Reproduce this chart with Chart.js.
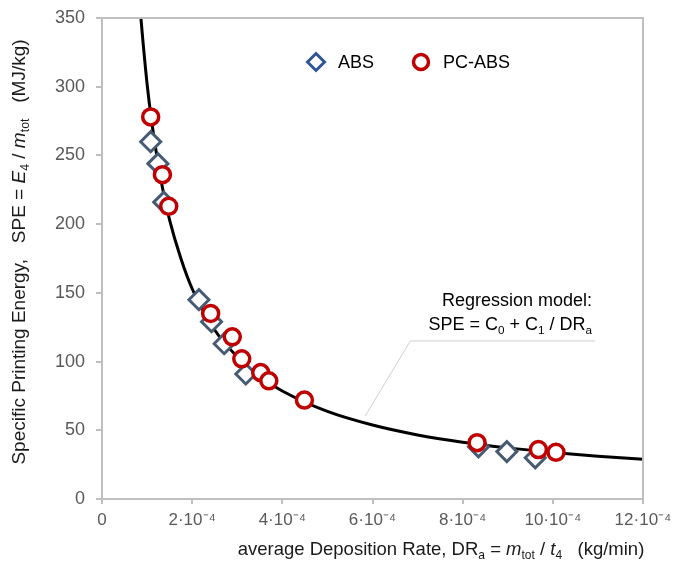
<!DOCTYPE html>
<html>
<head>
<meta charset="utf-8">
<script src="https://cdn.jsdelivr.net/npm/chart.js@4.4.0/dist/chart.umd.min.js"></script>
<style>
  html, body { margin: 0; padding: 0; background: #fff; }
  #wrap { width: 673px; height: 569px; }
</style>
</head>
<body>
<div id="wrap"><canvas id="c" width="673" height="569"></canvas></div>
<script>
// deposition rate in units of 1e-4 kg/min, SPE in MJ/kg
const absRate = [1.08, 1.24, 1.37, 2.15, 2.43, 2.71, 3.19, 8.35, 8.98, 9.61];
const absSpe  = [260, 244, 216, 145, 129, 113, 91, 38, 34.5, 30];

const pcRate = [1.08, 1.34, 1.48, 2.41, 2.89, 3.10, 3.52, 3.70, 4.49, 8.32, 9.68, 10.07];
const pcSpe  = [278, 236, 213, 135, 118, 102, 92, 86, 72, 41, 36, 34];

// regression curve
const fitRate = [0.85, 0.9, 1.0, 1.1, 1.2, 1.35, 1.5, 1.75, 2.0, 2.5, 3.0, 3.5, 4.0, 5.0, 6.0, 7.0, 8.0, 9.0, 10.0, 11.0, 12.0];
const fitSpe  = [355, 336, 302, 275, 253, 225, 203, 175, 153, 123, 103.5, 89, 78.6, 63.7, 53.8, 46.6, 41.3, 37.2, 33.9, 31.1, 28.9];

const xTicks = [0, 2, 4, 6, 8, 10, 12];
const yTicks = [0, 50, 100, 150, 200, 250, 300, 350];

const pts = (xs, ys) => xs.map((x, i) => ({ x: x, y: ys[i] }));

const FONT = '"Liberation Sans", Arial, sans-serif';
const AXIS = '#BFBFBF';

// draws text with italic / sub / sup parts
function richWidth(ctx, segs, size) {
  let w = 0;
  segs.forEach(s => {
    const fs = s.s ? size * 0.65 : size;
    ctx.font = (s.i ? 'italic ' : '') + fs + 'px ' + FONT;
    w += ctx.measureText(s.t).width;
  });
  return w;
}
function drawRich(ctx, segs, x, y, size, align) {
  const w = richWidth(ctx, segs, size);
  let cx = align === 'right' ? x - w : align === 'center' ? x - w / 2 : x;
  ctx.textBaseline = 'alphabetic';
  ctx.textAlign = 'left';
  segs.forEach(s => {
    const fs = s.s ? size * 0.65 : size;
    ctx.font = (s.i ? 'italic ' : '') + fs + 'px ' + FONT;
    let dy = 0;
    if (s.s === 'sub') dy = size * 0.22;
    if (s.s === 'sup') dy = -size * 0.4;
    ctx.fillText(s.t, cx, y + dy);
    cx += ctx.measureText(s.t).width;
  });
}

const extras = {
  id: 'extras',
  afterDraw(chart) {
    const ctx = chart.ctx;
    const a = chart.chartArea;
    const xs = chart.scales.x, ys = chart.scales.y;
    ctx.save();

    // top and right frame
    ctx.strokeStyle = AXIS;
    ctx.lineWidth = 2;
    ctx.beginPath();
    ctx.moveTo(a.left, a.top);
    ctx.lineTo(a.right, a.top);
    ctx.lineTo(a.right, a.bottom);
    ctx.stroke();

    // legend
    const ly = 62;
    ctx.strokeStyle = '#2F5597';
    ctx.fillStyle = '#fff';
    ctx.lineWidth = 3;
    ctx.beginPath();
    ctx.moveTo(316, ly - 8.5); ctx.lineTo(324.5, ly); ctx.lineTo(316, ly + 8.5); ctx.lineTo(307.5, ly);
    ctx.closePath(); ctx.fill(); ctx.stroke();
    ctx.strokeStyle = '#C00000';
    ctx.lineWidth = 3.5;
    ctx.beginPath(); ctx.arc(421, ly, 7.5, 0, Math.PI * 2); ctx.fill(); ctx.stroke();
    ctx.fillStyle = '#000';
    ctx.font = '18px ' + FONT;
    ctx.textBaseline = 'middle';
    ctx.textAlign = 'left';
    ctx.fillText('ABS', 338, ly + 1);
    ctx.fillText('PC-ABS', 443, ly + 1);

    // regression note with leader line
    ctx.strokeStyle = '#D0D0D0';
    ctx.lineWidth = 1;
    ctx.beginPath();
    ctx.moveTo(xs.getPixelForValue(5.84), ys.getPixelForValue(60.5));
    ctx.lineTo(xs.getPixelForValue(6.84), ys.getPixelForValue(115));
    ctx.lineTo(xs.getPixelForValue(10.94), ys.getPixelForValue(115));
    ctx.stroke();
    ctx.fillStyle = '#000';
    const nx = xs.getPixelForValue(10.87);
    drawRich(ctx, [{ t: 'Regression model:' }], nx, ys.getPixelForValue(145) + 6, 18, 'right');
    drawRich(ctx, [{ t: 'SPE = C' }, { t: '0', s: 'sub' }, { t: ' + C' }, { t: '1', s: 'sub' },
      { t: ' / DR' }, { t: 'a', s: 'sub' }], nx, ys.getPixelForValue(127) + 6, 18, 'right');

    // axis titles
    ctx.fillStyle = '#1a1a1a';
    drawRich(ctx, [{ t: 'average Deposition Rate, DR' }, { t: 'a', s: 'sub' }, { t: ' = ' },
      { t: 'm', i: true }, { t: 'tot', s: 'sub' }, { t: ' / ' }, { t: 't', i: true }, { t: '4', s: 'sub' },
      { t: '   (kg/min)' }], 441, 555, 18.5, 'center');

    ctx.translate(25, 252);
    ctx.rotate(-Math.PI / 2);
    drawRich(ctx, [{ t: 'Specific Printing Energy,   SPE = ' }, { t: 'E', i: true }, { t: '4', s: 'sub' },
      { t: ' / ' }, { t: 'm', i: true }, { t: 'tot', s: 'sub' }, { t: '   (MJ/kg)' }], 0, 0, 19, 'center');
    ctx.restore();
  }
};

new Chart(document.getElementById('c'), {
  type: 'scatter',
  data: {
    datasets: [
      {
        label: 'PC-ABS',
        data: pts(pcRate, pcSpe),
        pointStyle: 'circle',
        pointRadius: 8,
        pointHoverRadius: 8,
        borderColor: '#C00000',
        backgroundColor: '#fff',
        borderWidth: 3.5
      },
      {
        label: 'ABS',
        data: pts(absRate, absSpe),
        pointStyle: 'rectRot',
        pointRadius: 10,
        pointHoverRadius: 10,
        borderColor: '#475A74',
        backgroundColor: '#fff',
        borderWidth: 3
      },
      {
        label: 'model',
        type: 'line',
        data: pts(fitRate, fitSpe),
        borderColor: '#000',
        borderWidth: 3,
        pointRadius: 0,
        cubicInterpolationMode: 'monotone',
        fill: false,
        clip: 0
      }
    ]
  },
  options: {
    responsive: false,
    animation: false,
    events: [],
    layout: { padding: { top: 18, right: 30, left: 0, bottom: 0 } },
    plugins: { legend: { display: false }, tooltip: { enabled: false } },
    scales: {
      x: {
        type: 'linear',
        min: 0, max: 12,
        afterBuildTicks: s => { s.ticks = xTicks.map(v => ({ value: v })); },
        afterFit: s => { s.height = 70; s.paddingLeft = 0; s.paddingRight = 0; },
        border: { display: true, color: AXIS, width: 2 },
        grid: { drawOnChartArea: false, drawTicks: true, tickLength: 5, color: AXIS, lineWidth: 2 },
        ticks: {
          autoSkip: false, maxRotation: 0, padding: 6,
          color: '#595959', font: { family: FONT, size: 17 },
          callback: v => v === 0 ? '0' : v + '·10⁻⁴'
        }
      },
      y: {
        min: 0, max: 350,
        afterBuildTicks: s => { s.ticks = yTicks.map(v => ({ value: v })); },
        afterFit: s => { s.width = 102; s.paddingTop = 0; s.paddingBottom = 0; },
        border: { display: true, color: AXIS, width: 2 },
        grid: { drawOnChartArea: false, drawTicks: true, tickLength: 6, color: AXIS, lineWidth: 2 },
        ticks: {
          padding: 11,
          color: '#595959', font: { family: FONT, size: 18 }
        }
      }
    }
  },
  plugins: [extras]
});
</script>
</body>
</html>
